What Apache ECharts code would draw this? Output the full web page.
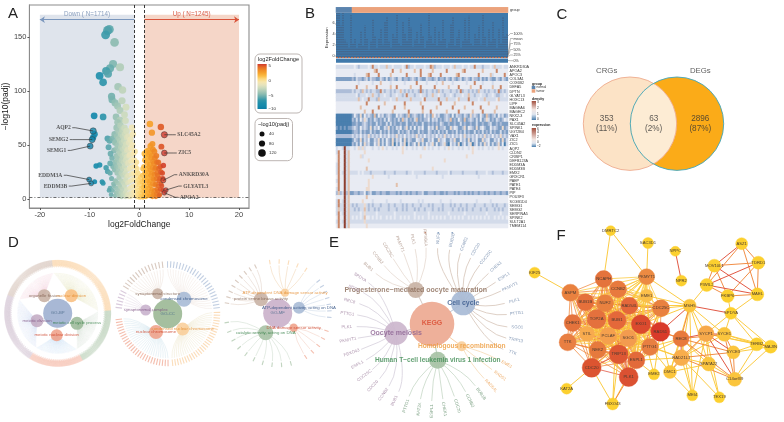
<!DOCTYPE html>
<html><head><meta charset="utf-8">
<style>html,body{margin:0;padding:0;background:#fff}#c{width:784px;height:422px;filter:blur(0.35px)}</style>
<script src="https://cdn.jsdelivr.net/npm/echarts@6/dist/echarts.min.js"></script>
</head><body><div id="c"></div>
<script>
// ---------- Panel A data ----------
const volcanoDown=[[-6.06,157],[-6.4,156],[-6.8,152],[-5,145],[-5.3,125],[-5.9,121],[-6.7,118.5],[-6.3,116],[-8,114],[-7.3,108],[-3.9,122],[-4.3,104],[-3.4,101],[-5.6,95],[-5.5,92],[-4.9,89],[-3.5,91],[-4.4,86],[-2.7,85],[-3.9,82],[-3,78],[-9.1,77],[-7.3,76],[-4.7,76],[-3.9,73],[-2.8,72.5],[-4.4,71],[-1.5,66],[-9,60],[-9.3,57],[-6.4,56],[-6,54],[-8.7,30.5],[-8,31.5],[-6.7,29],[-6.4,25.6],[-5.9,24],[-9,16],[-7.5,16],[-7.3,14.5],[-5.9,10],
[-5.4,56],[-5.5,38],[-5.3,30],[-5.6,19],[-5.2,14],[-5.4,8],[-5,60],[-4.9,52],[-5.1,45],[-4.9,34],[-5,27],[-4.8,17],[-5.1,12],[-4.7,6],[-4.9,3],[-4.6,66],[-4.5,58],[-4.7,53],[-4.5,47],[-4.6,40],[-4.4,36],[-4.6,30],[-4.5,24],[-4.4,15],[-4.6,10],[-4.3,5],[-4.2,63],[-4.1,56],[-4.3,50],[-4.1,44],[-4.2,39],[-4,33],[-4.2,27],[-4.1,20],[-4,13],[-4.2,8],[-4.1,3],[-3.8,68],[-3.7,60],[-3.9,54],[-3.7,48],[-3.8,42],[-3.6,36],[-3.8,30],[-3.7,24],[-3.6,17],[-3.8,11],[-3.7,6],[-3.6,2],[-3.4,64],[-3.3,58],[-3.5,52],[-3.3,46],[-3.4,40],[-3.2,34],[-3.4,28],[-3.3,22],[-3.2,15],[-3.4,9],[-3.3,4],[-3,66],[-2.9,60],[-3.1,54],[-2.9,48],[-3,42],[-2.8,36],[-3,30],[-2.9,24],[-2.8,18],[-3,12],[-2.9,6],[-2.8,2],[-2.6,63],[-2.5,57],[-2.7,51],[-2.5,45],[-2.6,39],[-2.4,33],[-2.6,27],[-2.5,21],[-2.4,15],[-2.6,9],[-2.5,4],[-2.2,58],[-2.1,52],[-2.3,46],[-2.1,40],[-2.2,34],[-2,28],[-2.2,22],[-2.1,16],[-2,10],[-2.2,5],[-2.1,2],[-1.8,55],[-1.7,47],[-1.9,41],[-1.7,35],[-1.8,29],[-1.6,23],[-1.8,17],[-1.7,11],[-1.6,6],[-1.8,2],[-1.3,60],[-1.4,50],[-1.2,42],[-1.4,36],[-1.3,30],[-1.2,24],[-1.4,18],[-1.3,12],[-1.2,7],[-1.4,3],[-0.9,44],[-1,36],[-0.8,30],[-1,24],[-0.9,18],[-0.8,12],[-1,7],[-0.9,3],[-0.6,34],[-0.5,28],[-0.7,22],[-0.5,16],[-0.6,10],[-0.4,5],[-0.6,2],[-0.3,24],[-0.2,18],[-0.1,13],[-0.3,8],[-0.2,4],[-0.1,1.6],[-6.2,48],[-5.8,42],[-6.1,8],[-5.7,4],[-5.9,33]];
const volcanoUp=[[0.2,20],[0.1,15],[0.3,10],[0.1,6],[0.3,3],[0.2,1.6],[0.7,28],[0.6,22],[0.5,16],[0.7,11],[0.6,7],[0.5,3],[0.7,1.6],[1,42],[1.1,36],[0.9,30],[1.1,24],[1,18],[0.9,13],[1.1,9],[1,5],[0.9,2],[1.4,44],[1.3,40],[1.5,34],[1.3,28],[1.4,22],[1.5,17],[1.3,12],[1.4,8],[1.5,4],[1.3,2],[1.8,45],[1.9,41],[1.7,36],[1.9,30],[1.8,25],[1.7,20],[1.9,15],[1.8,10],[1.7,6],[1.9,3],[2.2,49],[2.1,43],[2.3,38],[2.1,32],[2.2,27],[2.3,22],[2.1,17],[2.2,12],[2.3,7],[2.1,3],[2.6,51],[2.7,46],[2.5,40],[2.7,35],[2.6,29],[2.5,24],[2.7,19],[2.6,14],[2.5,9],[2.7,5],[2.6,2],[3,44],[3.1,38],[2.9,33],[3.1,28],[3,23],[2.9,18],[3.1,13],[3,8],[2.9,4],[3.4,40],[3.5,34],[3.3,29],[3.5,24],[3.4,19],[3.3,14],[3.5,9],[3.4,5],[3.3,2],[3.8,34],[3.9,28],[3.7,22],[3.9,17],[3.8,12],[3.7,7],[3.9,3],[4.2,30],[4.3,25],[4.1,19],[4.3,14],[4.2,9],[4.1,4],[4.6,24],[4.7,19],[4.5,12],[4.7,8],[4.8,31],[4.4,48.5],[2.1,69.4],[4.3,66.7],[2.5,61.4]];
const foldColors=['#0e7ea6','#158aab','#1f8fab','#3497a9','#63aaad','#8dbcb1','#aecbb8','#cbdabd','#e6e3bd','#f6e6ae','#fcd97f','#fbbd45','#f6a32c','#ef8a25','#e56a25','#cf3a2e'];
const geneCallouts=[['AQP2',-9.3,63,-13.5,66,'left'],['SEMG2',-9.5,55,-14,55,'left'],['SEMG1',-9.9,49,-14.4,45,'left'],['EDDM3A',-10.1,18,-15.2,22,'left'],['EDDM3B',-9.7,14.5,-14.2,12,'left'],['SLC45A2',5,59.5,7.3,59.5,'right'],['ZIC5',5,42.6,7.5,42.6,'right'],['ANKRD30A',4.8,17.3,7.6,22.5,'right'],['GLYATL3',5.3,8.3,8.5,12,'right'],['APOA2',5,5.8,7.8,1.6,'right']];
const xTicksA=[-20,-10,0,10,20], yTicksA=[0,50,100,150];

// ---------- Panel B data ----------
const genes=['ANKRD30A','APOA2','APOC3','COL3A1','COX6B2','DEFA5','DPTN','GLYATL3','HOXC13','LIPF','MAGEA6','MAGEC2','NKX2-3','PAX1','SLC45A2','SPINK1','UGT2B4','VAX1','ZIC2','ZIC5','AQP2','CLDN2','CRISP1','DEFB123A','EDDM3A','EDDM3B','EMX2','GRXCR1','PAEP','PATE1','PATE4','PIP','POU3F3','SCGB1D4','SEMG1','SEMG2','SERPINA5','SPINK2','SULT2A1','TMEM114'];
const heatRows=[
'33333333343233334373343336334333343723343333433762333433343633343343373332333436333433',
'44444444444444444446744444447444644444464474444464444447444444467444444446444444744444',
'44444444434444467444474444464444444744444474446744447444444467444444444744444634444474',
'11111111213221231322113213123213312212321321132212312213213212312321322131213211321321',
'44444444444344444434446444434444443444447444434444344644443444444344474443444434444444',
'44444444447444464444744444464474444446444474444447444444644447444446444474444464447444',
'22222222323326323233227323323233632323233272323323263233323323723323232633232332372323',
'33333333334233343363323343323343323733323343323363343323343233343363323343323343223343',
'33333333333634337333263333343363333336333334733333373336333346333373333433633333463333',
'44444444444444474444444464444444447444444464444444447444444644444444744444446444444444',
'44444444444464444444474444444744446444444447444444644444447444446444444474444444644444',
'44444444444444644474444444446444444474444446444744444446444447444444644447444446444444',
'00000000142151423216142312321142321261232121423164231123214132213215232142162123142312',
'00000000213142531213212131421213162312136121224132312123261214216123213141253121321243',
'00000000112112321211312113131211211311212113112121213211211211312112113112112311212111',
'10101011232142321513241132512132412513141324114231512231152431125143215134211423211512',
'00000000122131211312113121312113121231211312113212131213112131213121131213121312113121',
'22222222323242325232324232423252324232325232423232423252324232425232324232523242325232',
'00000000132151324113251314215132415132114325113241152341132511423151324115234113241513',
'00000000213141523114251314215031425031241513142351412351042315024135024131524131251403',
'34438334434535344434434543443434454344343443543434434434543443434434544343443434454344',
'37448364444444544444444444444444454444444444444444444444444444444444544444444444444444',
'47448364444453444444444444444444444444444454444444444444444444444544444444444444444444',
'47448364444444445444444444444444444444444444444444444454444444444444444444444444444444',
'37448364444444444444444444444444444444444444444444444444444444444444444444444444444444',
'37448364444444464444444444444444444444444444444454444444444444444444444444444444444444',
'37438363333434333233333323333233333233433333233333233333423333323333332333343323333233',
'47448364444444444454444444344444444444443444444444444344444444444444444344444444444444',
'37448364444444445444444444444444444444444444444444444444444444444444444444444444444444',
'47448364444444445444444444444464444444444444444444444444444444444444444444444444444444',
'37448364444444455444444444444444444444444444444444444444444444444444444444444444444444',
'26238261122122412311221221122212122121221223112221221121222121221212122122121221221221',
'44448364444444464444444444444444444444444444444444444444444444444444444444444444444444',
'37438364444445444434444443444444344444444343444444443444434444444444443444444344444444',
'37338363232333532323332333233233323233233323332323333233323233233233323333233323233323',
'36338363323233632332323333233323323233323233233323323233332332323233233323323332323233',
'37438363333343533333433333333433333333343333334333333333433333334333333333343333334333',
'47448363434343644343434334343433434343343434334343434343343434343343434343434334343434',
'37438363333333533333333333333333333333333333333333333333333333333333333333333333333333',
'47448364444444454444444444444444444444444444444444444444444444444444444444444444444444'];
const heatColors=['#4a7fae','#7f9fc4','#adbdd8','#d3dbea','#e8ebf3','#ecdace','#e2c0ab','#c98667','#8e3f2f'];
const sampleGroup='00000000'+'1'.repeat(78);
const exprPeaks=[7.9,7.9,5.6,7.9,3,2.5,1.6,7.5,2.2,3.1,1.5,2.4,4.6,1.8,5.6,3.3,1.2,2.6,6.8,3.7,1.4,3.2,5,2.1,6.2,7.3,2.6,1.6,4.2,3.4,7.6,2.4,1.9,6.4,4,2.8,7,5.2,1.7,3,4.4,2.2,6,3.6,1.5,2.9,7.8,3.8,2.3,5.4,1.8,4.6,2.7,6.6,3.2,1.4,2.5,5.8,7.1,2,3.4,4.8,1.6,2.8,6.9,3,7.4,2.4,1.9,4.2,3.3,5.6,2.1,7.7,3.5,1.7,4.9,2.6,6.3,3.1,1.5,5.1,2.3,7.2,3.6,4];
const exprTicks=[0,2,4,6];

// ---------- Panel C data ----------
const vennSets=[['CRGs',630],['DEGs',677]];
const vennCounts=[['353','(11%)',606.7],['63','(2%)',653.7],['2896','(87%)',700.3]];

// ---------- Panel D data: term nodes and their gene counts ----------
const goBP={hub:'GO-BP',x:57.7,y:313.3,color:'#a8b8d5',R:53.4,terms:[
 ['organelle fission',44.3,295.7,6.5,'#c9b3a5','#7a5a48','#eab9cf',160,96,125],
 ['nuclear division',71.3,295.7,6.5,'#f9c184','#e58a2a','#dcd9a4',96,3,175],
 ['meiotic cell cycle process',77,323.3,6.5,'#9ebb9c','#2c7a40','#b7d1c2',3,-62,125],
 ['meiotic nuclear division',56.7,335.3,6,'#f0a38c','#c9381e','#a8d3e6',-62,-122,115],
 ['meiotic division',37,320.7,6.5,'#c4adc4','#7a4f80','#bcc5e6',-122,-200,150]]};
const goCC={hub:'GO-CC',x:167.7,y:313.7,color:'#a5bf9f',R:52.5,terms:[
 ['synaptonemal structure',157.7,293.7,5.5,'#c9b3a5','#7a5a48','#e3cfc4',150,94,14],
 ['condensed chromosome',184,299.3,7.5,'#a8bbd6','#23457a','#e8d8d0',92,5,24],
 ['synaptonemal complex',145.7,310,5.5,'#c9b3cd','#7a4f80','#d6c6da',175,152,6],
 ['nuclear chromosome',156,332,7,'#f0a38c','#c9381e','#bcd8e6',-88,-175,27],
 ['condensed nuclear chromosome',182.7,329,6.5,'#f9cf9c','#e58a2a','#e6dcb8',3,-86,28]]};
const goMF={hub:'GO-MF',x:277.7,y:313.3,color:'#cfb8cf',R:54,terms:[
 ['ATP-dependent DNA damage sensor activity',285,292.7,4,'#f9cf9c','#e58a2a','#efcfa8',104,52,5],
 ['protein serine kinase activity',261,299.3,7,'#c9b3a5','#7a5a48','#ddcabe',172,112,9],
 ['ATP-dependent activity, acting on DNA',299,307.7,6,'#a8bbd6','#23457a','#c4d3e4',42,-8,7],
 ['DNA damage sensor activity',293.7,327.7,4.2,'#f0a38c','#c9381e','#f0c6b8',-15,-62,5],
 ['catalytic activity, acting on DNA',265.7,332.7,7.5,'#a7c2a5','#2c7a40','#c6d8c6',-70,-175,10]]};
const leafLenPattern=[6,7,5.5,7.5,6.5];

// ---------- Panel E data ----------
const kegg={name:'KEGG',x:432,y:324,r:22.3};
const keggTerms=[
 {name:'Progesterone\u2212mediated oocyte maturation',x:415.7,y:290,r:8,fill:'#c9b3a5',text:'#8a6a58',leaf:'#a58a7c',link:'#e6d9d0',size:7,genes:[['BUB1',368.3,266.7],['CCNB2',377.7,257.7],['CDC25C',388,250],['PKMYT1',400,244],['PLK1',413,239.3],['RPS6KA',425.3,237.7]]},
 {name:'Cell cycle',x:463.3,y:303,r:12.3,fill:'#a8bbd6',text:'#33558a',leaf:'#6c85a8',link:'#d5c4b8',size:7,genes:[['NUF2',438.3,238.3],['BUB1B',452,240],['CCNB2',464,244],['CDC20',475.7,249.3],['CDC25C',486,257.3],['CHEK1',496,266.7],['ESPL1',504,276.7],['PKMYT1',510,286.7],['PLK1',514.3,300.7],['PTTG1',516.7,313.3],['SGO1',517.3,327.3],['TRIP13',516,340],['TTK',512.7,352.7]]},
 {name:'Homologous recombination',x:461.7,y:346.3,r:5,fill:'#f9cf9c',text:'#ee9a3a',leaf:'#eb9d4e',link:'#f5d9b5',size:6.6,genes:[['EME1',506.7,364.3],['RAD51',500,375.7],['RAD54L',491,385.7]]},
 {name:'Human T\u2212cell leukemia virus 1 infection',x:437.7,y:360.3,r:8.5,fill:'#a7c2a5',text:'#3c8a50',leaf:'#5f8c68',link:'#c6d8c6',size:6.6,genes:[['BUB1B',481,394],['CCNB2',470,400.7],['CDC20',457.3,406],['CHEK1',444.3,409],['ESPL1',431.7,411],['KAT2A',419,409],['PTTG1',406,406]]},
 {name:'Oocyte meiosis',x:396,y:333.3,r:11.7,fill:'#ccb6cd',text:'#8a5f90',leaf:'#987898',link:'#d5cfdc',size:7,genes:[['BUB1',394.3,400.7],['CCNB2',383.3,394.3],['CDC20',372.7,386],['CDC25C',364.3,375.7],['ESPL1',357.3,364.7],['FBXO43',351.7,352.7],['PKMYT1',348,340],['PLK1',346.7,327],['PTTG1',347.3,313.7],['REC8',349.7,301],['SGO1',354,288.3],['SPDYA',360,277.3]]}];

// ---------- Panel F data (name,x,y,radius,colour,tier) in reference zoom units ----------
const Y='#fcd02f';
const fNodes=[['DMRTC2',257,17,5,Y,1],['SAC3D1',369,54,5.5,Y,1],['NPPC',451,79,5,Y,1],['NPR2',469,167,5.5,Y,1],['KIF25',29,143,5.5,Y,1],['KAT2A',125,491,5.5,Y,1],['FBXO43',263,537,6,Y,1],['ASZ1',650,56,6,Y,1],['TDRD1',700,113,6.5,Y,1],['MOV10L1',568,122,6.5,Y,1],['PIWIL2',545,180,6.5,Y,1],['MAEL',697,208,6.5,Y,1],['FKBP6',608,213,6.5,Y,1],['SPDYA',618,265,6,Y,1],['MSH5',494,242,6.5,'#fbc53d',1],['SYCE1',598,328,7,'#fbc53d',1],['SYCP1',543,326,8,'#f7a94a',1],['SYCE3',625,382,6.5,'#fbc53d',1],['TERB2',695,358,6.5,Y,1],['MAJIN',737,365,6.5,Y,1],['C14orf39',629,463,7,'#fbc53d',1],['SPATA22',551,417,7,'#fbc53d',1],['TEX19',583,517,5.5,Y,1],['MEI4',502,511,5.5,Y,1],['DMC1',435,441,6.5,'#fbc53d',1],['RAD21L1',469,398,8,'#f8ad4c',1],['REC8',468,341,8,'#e8793c',2],['EME2',387,448,5.5,Y,1],
['ASPM',136,203,8.5,'#e9813f',2],['NCAPH',236,162,8.5,'#e4733c',2],['BUB1B',181,232,8.5,'#e5703b',2],['NUF2',240,235,8.5,'#e9813f',2],['CCNB2',279,193,8.5,'#e87a3e',2],['PKMYT1',365,155,8,'#ec8a42',1],['EME1',365,212,6.5,'#fbbf4a',1],['CHEK1',143,294,8.5,'#e4733c',2],['TOP2A',215,282,9.5,'#e4713d',2],['BUB1',276,286,9,'#e4683a',3],['RAD54L',313,242,8.5,'#e4673a',2],['CDC25C',408,250,8.5,'#e9813f',2],['TTK',128,352,8.5,'#e97f42',2],['STIL',186,326,7.5,'#f8ab4e',1],['PCLAF',250,333,8.5,'#f5a04d',1],['SGO1',310,340,8.5,'#f39b4f',1],['EXO1',348,298,9.5,'#db4a2e',2],['RAD51',406,320,9.5,'#d93a2a',2],['NEK2',218,375,8.5,'#e67a3d',2],['TRIP13',281,388,9.5,'#dd5733',3],['ESPL1',334,406,8.5,'#e26a3a',2],['PTTG1',375,366,8.5,'#e87f41',1],['CDC20',200,428,9.5,'#dc5430',3],['PLK1',311,456,9.5,'#db5132',3]];
const fClique=['ASPM','NCAPH','BUB1B','NUF2','CCNB2','PKMYT1','EME1','CHEK1','TOP2A','BUB1','RAD54L','CDC25C','TTK','STIL','PCLAF','SGO1','EXO1','RAD51','NEK2','TRIP13','ESPL1','PTTG1','CDC20','PLK1'];
const fLinksYellow='DMRTC2-NCAPH DMRTC2-PKMYT1 SAC3D1-PKMYT1 KIF25-ASPM KAT2A-CDC20 FBXO43-CDC20 FBXO43-ESPL1 FBXO43-TRIP13 FBXO43-CCNB2 EME2-ESPL1 EME2-RAD51 EME2-EXO1 MSH5-PIWIL2 MSH5-SYCP1 MSH5-SYCE1 MSH5-CDC25C MSH5-PKMYT1 MSH5-EXO1 MSH5-RAD21L1 MSH5-DMC1 MSH5-SPATA22 MSH5-MEI4 MSH5-EME1 MSH5-RAD54L SPDYA-SYCE1 SPDYA-SYCP1 SPDYA-TERB2 SPDYA-MAJIN SPDYA-MAEL FKBP6-SPDYA SYCP1-SPATA22 SYCP1-TERB2 SYCP1-MAJIN SYCP1-DMC1 SYCP1-MEI4 SYCP1-TEX19 SYCE1-TERB2 SYCE1-MAJIN SYCE1-RAD21L1 SYCE3-TERB2 SYCE3-MAJIN C14orf39-TERB2 C14orf39-MAJIN C14orf39-SPATA22 REC8-SPATA22 REC8-DMC1 REC8-PTTG1 REC8-MEI4 REC8-ESPL1 RAD21L1-SPATA22 RAD21L1-TEX19 RAD21L1-MEI4 RAD21L1-ESPL1 RAD21L1-PTTG1 RAD21L1-SGO1 DMC1-RAD51 DMC1-SPATA22 DMC1-MEI4 DMC1-PTTG1 SPATA22-TEX19'.split(' ');
const fLinksOrange='FBXO43-PLK1 ASZ1-TDRD1 ASZ1-PIWIL2 ASZ1-MAEL TDRD1-MOV10L1 TDRD1-MAEL TDRD1-FKBP6 MOV10L1-PIWIL2 MOV10L1-FKBP6 PIWIL2-FKBP6 MAEL-FKBP6 MSH5-REC8 SYCP1-RAD21L1 SYCE1-SYCE3 SYCE1-C14orf39 SYCE1-REC8 SYCE3-C14orf39 SYCE3-REC8 SYCE3-RAD21L1 C14orf39-RAD21L1 C14orf39-REC8 REC8-RAD51 REC8-EXO1 RAD21L1-DMC1'.split(' ');
const fLinksRed='NPPC-NPR2 ASZ1-MOV10L1 TDRD1-PIWIL2 MOV10L1-MAEL PIWIL2-MAEL MSH5-RAD51 MSH5-SPDYA SYCP1-SYCE1 SYCP1-SYCE3 SYCP1-C14orf39 SYCP1-REC8 TERB2-MAJIN REC8-RAD21L1'.split(' ');

// ---------- build ----------
const FONT='"Liberation Sans",Arial,sans-serif';
const P=4, F=5;
const series=[], graphic=[];
const hiddenAxis=(min,max,extra)=>Object.assign({type:'value',show:false,min,max},extra||{});
const txt=(text,x,y,fill,size,o)=>graphic.push({type:'text',x,y,silent:true,z:50,style:{text,fill,font:(o&&o.weight||'normal')+' '+size+'px '+FONT,align:o&&o.align||'left',verticalAlign:'middle'}});

// A
series.push({type:'scatter',xAxisIndex:0,yAxisIndex:0,z:1,data:[],symbolSize:0,silent:true,
 markArea:{silent:true,itemStyle:{opacity:1},data:[[{coord:[-20,170.6],itemStyle:{color:'#dfe4ec'}},{coord:[-1,1.3]}],[{coord:[1,170.6],itemStyle:{color:'#f5d6c8'}},{coord:[20,1.3]}]]}});
const vIdx=[];
const sizeByP=v=>4.6+v[1]*0.028;
vIdx.push(series.length);
series.push({type:'scatter',xAxisIndex:0,yAxisIndex:0,z:3,silent:true,data:volcanoDown.concat(volcanoUp),symbolSize:sizeByP,itemStyle:{opacity:.92}});
vIdx.push(series.length);
series.push({type:'scatter',xAxisIndex:0,yAxisIndex:0,z:4,silent:true,data:geneCallouts.map(g=>[g[1],g[2]]),symbolSize:sizeByP,itemStyle:{borderColor:'#3a3a3a',borderWidth:.6}});
const leader=[];geneCallouts.forEach(g=>{const el=g[5]=='left'?g[3]+0.6:g[3]-0.6;leader.push([g[1],g[2]],[el,g[4]],[g[3],g[4]],[null,null]);});
series.push({type:'line',xAxisIndex:0,yAxisIndex:0,z:5,silent:true,data:leader,symbol:'none',connectNulls:false,lineStyle:{color:'#333',width:.7}});
series.push({type:'scatter',xAxisIndex:0,yAxisIndex:0,z:6,silent:true,data:geneCallouts.map(g=>({name:g[0],value:[g[3],g[4]],label:{position:g[5]}})),symbolSize:1,itemStyle:{color:'transparent'},
 label:{show:true,formatter:'{b}',distance:1,fontFamily:'"Liberation Serif",serif',fontWeight:'bold',fontSize:5.6,color:'#333'}});
series.push({type:'scatter',xAxisIndex:0,yAxisIndex:0,z:7,data:[],symbolSize:0,silent:true,markLine:{silent:true,symbol:'none',label:{show:false},animation:false,data:[
 {xAxis:-1,lineStyle:{color:'#222',type:[3,2],width:.9}},{xAxis:1,lineStyle:{color:'#222',type:[3,2],width:.9}},{yAxis:1.3,lineStyle:{color:'#333',type:[3,2,1,2],width:.7}},
 [{coord:[-1,166],lineStyle:{color:'#7b97bd',type:'solid',width:1},symbol:'none'},{coord:[-20,166],symbol:'arrow',symbolSize:5}],
 [{coord:[1,166],lineStyle:{color:'#d9533a',type:'solid',width:1},symbol:'none'},{coord:[20,166],symbol:'arrow',symbolSize:5}]]}});
txt('Down ( N=1714)',87,14,'#8ba0bf',6.3,{align:'center'});
txt('Up ( N=1245)',191.7,14,'#d9604a',6.3,{align:'center'});
const box=(x,y,w,h)=>graphic.push({type:'rect',silent:true,z:40,shape:{x,y,width:w,height:h,r:5},style:{fill:'#fff',stroke:'#b5aeaa',lineWidth:.9}});
box(255,54,47,59);box(255,118.5,37.5,42.2);
txt('log2FoldChange',258,59,'#222',5.6,{});
graphic.push({type:'rect',silent:true,z:41,shape:{x:257.5,y:64,width:9.2,height:45},style:{fill:{type:'linear',x:0,y:0,x2:0,y2:1,colorStops:foldColors.slice().reverse().map((c,i,a)=>({offset:i/(a.length-1),color:c}))}}});
[['5',66],['0',81],['\u22125',95.5],['\u221210',109]].forEach(t=>txt(t[0],268.5,t[1],'#333',4.4,{}));
txt('\u2212log10(padj)',258,124,'#222',5.6,{});
[[134,5,'40'],[143.5,6.2,'80'],[153,7.6,'120']].forEach(t=>{graphic.push({type:'circle',silent:true,z:41,shape:{cx:262,cy:t[0],r:t[1]/2},style:{fill:'#111'}});txt(t[2],269,t[0],'#333',4.4,{});});

// B
const vHeat=series.length;
const heatData=[];heatRows.forEach((r,ri)=>{for(let c=0;c<86;c++)heatData.push([c,ri,+(r[c]||3)]);});
series.push({type:'heatmap',xAxisIndex:2,yAxisIndex:2,data:heatData,silent:true,itemStyle:{borderWidth:0}});
const vGroup=series.length;
series.push({type:'heatmap',xAxisIndex:3,yAxisIndex:3,data:sampleGroup.split('').map((g,i)=>[i,0,+g]),silent:true});
series.push({type:'custom',xAxisIndex:1,yAxisIndex:1,silent:true,z:3,data:exprPeaks.map((v,i)=>[i+.5,v]),renderItem(p,api){
  const a=api.coord([api.value(0),-0.2]),b=api.coord([api.value(0),api.value(1)]);
  return {type:'line',shape:{x1:a[0],y1:a[1],x2:b[0],y2:b[1]},style:{stroke:'#4e3d4a',lineWidth:.8,lineDash:[1.2,1.2],opacity:.7}};}});
series.push({type:'scatter',xAxisIndex:1,yAxisIndex:1,z:4,data:[],symbolSize:0,silent:true,markLine:{silent:true,symbol:'none',label:{show:false},animation:false,data:[
 {yAxis:-0.15,lineStyle:{color:'#c8724e',type:[2,1],width:1}},{yAxis:-0.5,lineStyle:{color:'#a9bdd3',type:'solid',width:1}}]}});
[['100%',33.5,36],['mean',38.5,54],['75%',43.5,55],['50%',49.5,56],['25%',55,56.5],['0%',60.7,60.5]].forEach(t=>{
 txt(t[0],513.5,t[1],'#333',3.6,{});
 graphic.push({type:'polyline',silent:true,z:45,shape:{points:[[508,t[2]],[510.5,t[1]],[513,t[1]]]},style:{stroke:'#444',lineWidth:.35,fill:'none'}});});
txt('group',532,84,'#222',3.5,{weight:'bold'});
[['normal','#5b84ae',87.5],['tumor','#eba37c',91]].forEach(t=>{graphic.push({type:'rect',silent:true,z:41,shape:{x:531.7,y:t[2]-1.7,width:3.6,height:3.4},style:{fill:t[1]}});txt(t[0],536.5,t[2],'#333',3.2,{});});
txt('density',532,98.7,'#222',3.5,{weight:'bold'});
graphic.push({type:'rect',silent:true,z:41,shape:{x:531.7,y:101,width:4.3,height:19},style:{fill:{type:'linear',x:0,y:0,x2:0,y2:1,colorStops:[{offset:0,color:'#a24f3e'},{offset:.45,color:'#f2e6e2'},{offset:.7,color:'#dfe6f0'},{offset:1,color:'#4a7fae'}]}}});
[['3',102],['2',107.7],['1',113.7],['0',119.3]].forEach(t=>txt(t[0],537,t[1],'#333',3.2,{}));
txt('expression',532,125,'#222',3.5,{weight:'bold'});
graphic.push({type:'rect',silent:true,z:41,shape:{x:531.7,y:128,width:4.3,height:19},style:{fill:{type:'linear',x:0,y:0,x2:0,y2:1,colorStops:[{offset:0,color:'#a24f3e'},{offset:.6,color:'#f2e6e2'},{offset:.8,color:'#dfe6f0'},{offset:1,color:'#4a7fae'}]}}});
[['6',128.7],['4',132.5],['2',137],['0',142],['\u22122',146.3]].forEach(t=>txt(t[0],537,t[1],'#333',3.2,{}));
[[424.5,'#c98b72'],[437.5,'#8fa7c4'],[451.5,'#8fa7c4']].forEach(t=>graphic.push({type:'rect',silent:true,shape:{x:t[0],y:232,width:1.6,height:1.4},style:{fill:t[1]}}));

// C
const pageLabel=(text,x,y,color,size,weight,rot)=>({name:text,value:[x,y],label:{color,fontSize:size,fontWeight:weight||'normal',rotate:rot||0}});
const textSeries=(items,z)=>({type:'scatter',xAxisIndex:P,yAxisIndex:P,silent:true,z:z||20,data:items,symbolSize:1,itemStyle:{color:'transparent'},label:{show:true,position:'inside',formatter:'{b}',fontFamily:FONT,align:'center',verticalAlign:'middle'}});
const circ=(x,y,r,fill,stroke,sw,z,op)=>series.push({type:'scatter',xAxisIndex:P,yAxisIndex:P,silent:true,z:z,data:[[x,y]],symbolSize:r*2,itemStyle:{color:fill,borderColor:stroke||'transparent',borderWidth:sw||0,opacity:op===undefined?1:op}});
const venn=vennSets.map(s=>s[1]),vennY=123.7,vennR=46.7;
circ(venn[0],vennY,vennR,'#fce3c6',null,0,2);
circ(venn[1],vennY,vennR,'#fbab18',null,0,3);
series.push({type:'custom',xAxisIndex:P,yAxisIndex:P,silent:true,z:4,data:[[venn[0],vennY,venn[1]]],renderItem(p,api){
  const a=api.coord([api.value(0),api.value(1)]),b=api.coord([api.value(2),api.value(1)]);
  const mid=(a[0]+b[0])/2,h=(b[0]-a[0])/2,d=Math.sqrt(vennR*vennR-h*h),w=vennR-h;
  return {type:'path',shape:{pathData:`M ${mid} ${a[1]-d} A ${vennR} ${vennR} 0 0 1 ${mid} ${a[1]+d} A ${vennR} ${vennR} 0 0 1 ${mid} ${a[1]-d} Z`,x:mid-w,y:a[1]-d,width:2*w,height:2*d,layout:'center'},style:{fill:'#fdecd4'}};}});
circ(venn[0],vennY,vennR,'transparent','#eeac8f',.9,5);
circ(venn[1],vennY,vennR,'transparent','#3fa7c0',.9,6);
series.push(textSeries(vennSets.map((s,i)=>pageLabel(s[0],[606.7,700.3][i],71,'#333',7.8)).concat(
 vennCounts.flatMap(c=>[pageLabel(c[0],c[2],119,'#333',8.2),pageLabel(c[1],c[2],128.5,'#333',8.2)]))));

// D
const curves=[],rays=[],dLabels=[];
function addRadial(g,kind){
 const lines=[];
 g.terms.forEach(t=>{
  const n=t[9];
  lines.push({x0:g.x,y0:g.y,x1:t[1],y1:t[2],cx:(g.x+t[1])/2,cy:(g.y+t[2])/2,c:'#999',w:.4,o:.6});
  for(let i=0;i<n;i++){
   const a=(t[7]+(t[8]-t[7])*(i+.5)/n)*Math.PI/180,cs=Math.cos(a),sn=Math.sin(a);
   const len=kind==0?leafLenPattern[i%5]:kind==1?6.5:4.5;
   const rOut=g.R,rIn=g.R-len,rf=kind==0?g.R-13:rIn-1.5;
   rays.push({x0:g.x+rIn*cs,y0:g.y-rIn*sn,x1:g.x+rOut*cs,y1:g.y-rOut*sn,c:t[4],w:kind==0?.5:1.1,o:kind==0?.6:.7});
   const cr=g.R*(kind==0?.78:.62);
   lines.push({x0:t[1],y0:t[2],x1:g.x+rf*cs,y1:g.y-rf*sn,cx:g.x+cr*cs,cy:g.y-cr*sn,c:t[6],w:kind==0?.3:kind==1?.4:.6,o:kind==0?.2:.8});
  }
 });
 curves.push(...lines);
 circ(g.x,g.y,14.5,g.color,null,0,11);
 g.terms.forEach(t=>{circ(t[1],t[2],t[3],t[4],null,0,12,.9);dLabels.push(pageLabel(t[0],t[1],t[2],t[5],4.3));});
 dLabels.push(pageLabel(g.hub,g.x,g.y,'#4a6a8a',4.3));
}
addRadial(goBP,0);addRadial(goCC,1);addRadial(goMF,2);
const eLabels=[];
keggTerms.forEach(t=>{
 curves.push({x0:kegg.x,y0:kegg.y,x1:t.x,y1:t.y,cx:(kegg.x+t.x)/2,cy:(kegg.y+t.y)/2,c:t.leaf,w:.6,o:.8});
 t.genes.forEach(g=>{
  const dx=g[1]-kegg.x,dy=g[2]-kegg.y,d=Math.hypot(dx,dy),k=1-10/d;
  curves.push({x0:t.x,y0:t.y,x1:kegg.x+dx*k,y1:kegg.y+dy*k,cx:kegg.x+dx*.66,cy:kegg.y+dy*.66,c:t.link,w:.8,o:1});
  let rot=-Math.atan2(dy,dx)*180/Math.PI; if(dx<0)rot+=180;
  eLabels.push(pageLabel(g[0],g[1],g[2],t.leaf,4.3,'normal',rot));
 });
});
series.push({type:'custom',xAxisIndex:P,yAxisIndex:P,silent:true,z:10,data:curves.map(l=>[l.x0,l.y0,l.x1,l.y1,l.cx,l.cy]),renderItem(p,api){
  const l=curves[p.dataIndex],a=api.coord([l.x0,l.y0]),b=api.coord([l.x1,l.y1]),c=api.coord([l.cx,l.cy]);
  return {type:'bezierCurve',shape:{x1:a[0],y1:a[1],x2:b[0],y2:b[1],cpx1:c[0],cpy1:c[1]},style:{stroke:l.c,fill:'none',lineWidth:l.w,opacity:l.o}};}});
series.push({type:'custom',xAxisIndex:P,yAxisIndex:P,silent:true,z:10,data:rays.map(l=>[l.x0,l.y0,l.x1,l.y1]),renderItem(p,api){
  const l=rays[p.dataIndex],a=api.coord([l.x0,l.y0]),b=api.coord([l.x1,l.y1]);
  return {type:'line',shape:{x1:a[0],y1:a[1],x2:b[0],y2:b[1]},style:{stroke:l.c,lineWidth:l.w,opacity:l.o}};}});
circ(kegg.x,kegg.y,kegg.r,'#eeb09a',null,0,11);
keggTerms.forEach(t=>{circ(t.x,t.y,t.r,t.fill,null,0,12,.92);dLabels.push(pageLabel(t.name,t.x,t.y,t.text,t.size,'bold'));});
dLabels.push(pageLabel(kegg.name,kegg.x,kegg.y-1,'#d9482e',7,'bold'));
series.push(textSeries(dLabels.concat(eLabels)));

// F
const tier=Object.fromEntries(fNodes.map(n=>[n[0],n[5]]));
const linkColors={1:'#fbc83a',2:'#f0873c',3:'#df4f3a'};
const fLinks=[];
const addLink=(a,b,t,w)=>fLinks.push({source:a,target:b,lineStyle:{color:linkColors[t],width:w,opacity:.95}});
const cliquePairs=[];fClique.forEach((a,i)=>fClique.slice(i+1).forEach(b=>cliquePairs.push([a,b,Math.min(tier[a],tier[b])])));
[2,3,1].forEach(t=>cliquePairs.filter(p=>p[2]==t).forEach(p=>addLink(p[0],p[1],t,.8)));
fLinksYellow.forEach(s=>{const p=s.split('-');addLink(p[0],p[1],1,1);});
fLinksOrange.forEach(s=>{const p=s.split('-');addLink(p[0],p[1],2,1);});
fLinksRed.forEach(s=>{const p=s.split('-');addLink(p[0],p[1],3,1);});
series.push({type:'graph',layout:'none',coordinateSystem:'cartesian2d',xAxisIndex:F,yAxisIndex:F,silent:true,z:10,roam:false,
 data:fNodes.map(n=>({name:n[0],value:[n[1],n[2]],symbolSize:n[3]*2,itemStyle:{color:n[4],borderColor:n[4],borderWidth:.4}})),links:fLinks,
 label:{show:true,position:'inside',fontSize:4.2,color:'#4a3a30',fontFamily:FONT,formatter:'{b}'}});

const titles=[['A',8,6],['B',305,6],['C',556.5,7],['D',8,235],['E',329,235],['F',556.5,228]].map(t=>({text:t[0],left:t[1],top:t[2],padding:0,textStyle:{fontFamily:FONT,fontSize:15,fontWeight:'normal',color:'#222'}}));

const chart=echarts.init(document.getElementById('c'),null,{renderer:'canvas'});
chart.setOption({
 animation:false,backgroundColor:'#fff',title:titles,textStyle:{fontFamily:FONT},
 grid:[
  {left:29,top:5,width:220,height:203,show:true,borderColor:'#8c8c8c',borderWidth:1.1,backgroundColor:'#fff'},
  {left:336,top:13,width:172,height:49.7,show:true,backgroundColor:'#3f79ab',borderWidth:0},
  {left:336,top:65,width:172,height:163},
  {left:336,top:7.3,width:172,height:5.3},
  {left:0,top:0,width:784,height:422},
  {left:525,top:225,width:259,height:197}],
 xAxis:[
  {type:'value',gridIndex:0,min:-22.1,max:22,name:'log2FoldChange',nameLocation:'middle',nameGap:9,nameTextStyle:{fontSize:8.5,color:'#222'},splitLine:{show:false},axisLine:{onZero:false,lineStyle:{color:'#8c8c8c'}},axisTick:{length:2,lineStyle:{color:'#555'},customValues:xTicksA},axisLabel:{fontSize:7.5,color:'#444',margin:3,customValues:xTicksA}},
  hiddenAxis(0,86,{gridIndex:1}),
  {type:'category',gridIndex:2,show:false,data:Array.from({length:86},(_,i)=>i)},
  {type:'category',gridIndex:3,show:false,data:Array.from({length:86},(_,i)=>i)},
  hiddenAxis(0,784,{gridIndex:4}),
  hiddenAxis(0,777,{gridIndex:5})],
 yAxis:[
  {type:'value',gridIndex:0,min:-8.3,max:179.6,name:'\u2212log10(padj)',nameLocation:'middle',nameGap:11,nameTextStyle:{fontSize:8.5,color:'#222'},splitLine:{show:false},axisLine:{onZero:false,lineStyle:{color:'#8c8c8c'}},axisTick:{length:2,lineStyle:{color:'#555'},customValues:yTicksA},axisLabel:{fontSize:7.5,color:'#444',margin:3,customValues:yTicksA}},
  {type:'value',gridIndex:1,min:-1.23,max:7.9,name:'Expression',nameLocation:'middle',nameGap:6,nameTextStyle:{fontSize:4.2,color:'#333'},splitLine:{show:false},axisLine:{show:false},axisTick:{length:1,customValues:exprTicks,lineStyle:{color:'#444',width:.4}},axisLabel:{fontSize:3.8,color:'#333',margin:1.5,customValues:exprTicks}},
  {type:'category',gridIndex:2,inverse:true,position:'right',data:genes,axisLine:{show:false},axisTick:{show:false},axisLabel:{fontSize:3.7,color:'#333',margin:1.5,interval:0}},
  {type:'category',gridIndex:3,position:'right',data:['group'],axisLine:{show:false},axisTick:{show:false},axisLabel:{fontSize:3.8,color:'#333',margin:2}},
  hiddenAxis(0,422,{gridIndex:4,inverse:true}),
  hiddenAxis(0,591,{gridIndex:5,inverse:true})],
 visualMap:[
  {show:false,type:'continuous',seriesIndex:vIdx,dimension:0,min:-10,max:5,inRange:{color:foldColors}},
  {show:false,type:'continuous',seriesIndex:vHeat,dimension:2,min:0,max:8,inRange:{color:heatColors}},
  {show:false,type:'piecewise',seriesIndex:vGroup,dimension:2,pieces:[{value:0,color:'#5b84ae'},{value:1,color:'#eba37c'}]}],
 graphic:{elements:graphic},
 series
});
</script></body></html>
